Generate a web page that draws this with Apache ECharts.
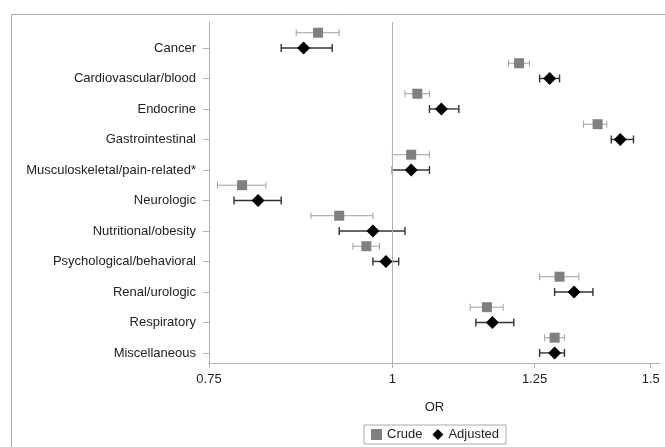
<!DOCTYPE html>
<html>
<head>
<meta charset="utf-8">
<script src="https://cdn.jsdelivr.net/npm/echarts@6/dist/echarts.min.js"></script>
<style>
  html, body { margin: 0; padding: 0; background: #fff; }
  #chart { width: 665px; height: 447px; }
</style>
</head>
<body>
<div id="chart"></div>
<script>
// categories, top to bottom
const categories = [
  'Cancer', 'Cardiovascular/blood', 'Endocrine', 'Gastrointestinal',
  'Musculoskeletal/pain-related*', 'Neurologic', 'Nutritional/obesity',
  'Psychological/behavioral', 'Renal/urologic', 'Respiratory', 'Miscellaneous'
];

// odds ratios
const crudeOR   = [0.89, 1.22, 1.04, 1.38, 1.03, 0.79, 0.92, 0.96, 1.30, 1.16, 1.29];
const crudeLow  = [0.86, 1.20, 1.02, 1.35, 1.00, 0.76, 0.88, 0.94, 1.26, 1.13, 1.27];
const crudeHigh = [0.92, 1.24, 1.06, 1.40, 1.06, 0.82, 0.97, 0.98, 1.34, 1.19, 1.31];

const adjOR   = [0.87, 1.28, 1.08, 1.43, 1.03, 0.81, 0.97, 0.99, 1.33, 1.17, 1.29];
const adjLow  = [0.84, 1.26, 1.06, 1.41, 1.00, 0.78, 0.92, 0.97, 1.29, 1.14, 1.26];
const adjHigh = [0.91, 1.30, 1.11, 1.46, 1.06, 0.84, 1.02, 1.01, 1.37, 1.21, 1.31];

const xTicks = [0.75, 1, 1.25, 1.5];

const FONT = "'Liberation Sans', Arial, sans-serif";
const ln = Math.log;

// crude sits half a row above its category tick
const crudeRows = categories.map((c, i) => i - 0.5);
const adjRows = categories.map((c, i) => i);

const errorBars = (lo, hi, rows, color, width, cap) => ({
  type: 'custom',
  z: 1,
  silent: true,
  data: rows.map((r, i) => [ln(lo[i]), ln(hi[i]), r]),
  encode: { x: [0, 1], y: 2 },
  renderItem: (params, api) => {
    const a = api.coord([api.value(0), api.value(2)]);
    const b = api.coord([api.value(1), api.value(2)]);
    const style = { stroke: color, lineWidth: width };
    return {
      type: 'group',
      children: [
        { type: 'line', shape: { x1: a[0], y1: a[1], x2: b[0], y2: b[1] }, style },
        { type: 'line', shape: { x1: a[0], y1: a[1] - cap, x2: a[0], y2: a[1] + cap }, style },
        { type: 'line', shape: { x1: b[0], y1: b[1] - cap, x2: b[0], y2: b[1] + cap }, style }
      ]
    };
  }
});

const chart = echarts.init(document.getElementById('chart'));

chart.setOption({
  animation: false,
  textStyle: { fontFamily: FONT },
  graphic: [{
    type: 'rect',
    left: 9, top: 12,
    shape: { width: 700, height: 500 },
    style: { fill: 'none', stroke: '#a8a8a8', lineWidth: 1 },
    silent: true
  }],
  grid: { left: 209, right: 5, top: 22, bottom: 84 },
  legend: {
    left: 364, top: 425,
    padding: [3, 7],
    borderColor: '#aaaaaa', borderWidth: 1,
    itemWidth: 11, itemHeight: 11, itemGap: 10,
    textStyle: { fontFamily: FONT, fontSize: 13, color: '#222' },
    data: [{ name: 'Crude', icon: 'rect' }, { name: 'Adjusted', icon: 'diamond' }]
  },
  xAxis: {
    type: 'value',
    min: ln(0.75),
    max: ln(1.522),
    name: 'OR',
    nameLocation: 'middle',
    nameGap: 38,
    nameTextStyle: { fontFamily: FONT, fontSize: 13, color: '#222' },
    axisLine: { show: true, onZero: false, lineStyle: { color: '#b0b0b0' } },
    axisTick: { show: true, length: 5, customValues: xTicks.map(ln), lineStyle: { color: '#b0b0b0' } },
    axisLabel: {
      customValues: xTicks.map(ln),
      margin: 10,
      fontSize: 13,
      color: '#222',
      formatter: v => String(+Math.exp(v).toFixed(2))
    },
    splitLine: { show: false }
  },
  yAxis: {
    type: 'value',
    inverse: true,
    min: -0.852,
    max: 10.33,
    axisLine: { show: true, onZero: false, lineStyle: { color: '#b0b0b0' } },
    axisTick: { show: true, length: 6, customValues: adjRows, lineStyle: { color: '#b0b0b0' } },
    axisLabel: {
      customValues: adjRows,
      margin: 13,
      fontSize: 13,
      color: '#222',
      formatter: v => categories[Math.round(v)] || ''
    },
    splitLine: { show: false }
  },
  series: [
    errorBars(crudeLow, crudeHigh, crudeRows, '#a0a0a0', 1, 3.5),
    errorBars(adjLow, adjHigh, adjRows, '#333333', 1.4, 4),
    {
      name: 'Crude',
      type: 'scatter',
      z: 2,
      symbol: 'rect',
      symbolSize: 10,
      itemStyle: { color: '#808080', opacity: 1 },
      data: crudeOR.map((v, i) => [ln(v), crudeRows[i]]),
      markLine: {
        silent: true,
        symbol: 'none',
        label: { show: false },
        lineStyle: { color: '#b0b0b0', type: 'solid', width: 1 },
        data: [{ xAxis: 0 }]
      }
    },
    {
      name: 'Adjusted',
      type: 'scatter',
      z: 3,
      symbol: 'diamond',
      symbolSize: 13,
      itemStyle: { color: '#000000', opacity: 1 },
      data: adjOR.map((v, i) => [ln(v), adjRows[i]])
    }
  ]
});
</script>
</body>
</html>
